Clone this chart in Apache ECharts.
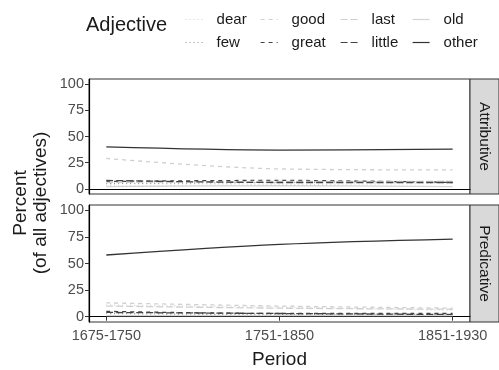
<!DOCTYPE html>
<html>
<head>
<meta charset="utf-8">
<script src="https://cdn.jsdelivr.net/npm/echarts@6/dist/echarts.min.js"></script>
<style>
  html, body { margin: 0; padding: 0; background: #fff; }
  #chart { width: 499px; height: 370px; }
</style>
</head>
<body>
<div id="chart"></div>
<script>
// ===== Data =====
const periods = ['1675-1750', '1751-1850', '1851-1930'];
const adjectives = ['dear', 'few', 'good', 'great', 'last', 'little', 'old', 'other'];
const yTicks = [0, 25, 50, 75, 100];

// Attributive panel
const attrDear   = [3, 4, 5];
const attrFew    = [5, 6, 7];
const attrGood   = [29, 19, 18];
const attrGreat  = [7, 8, 6];
const attrLast   = [6, 7, 7];
const attrLittle = [8, 6, 6];
const attrOld    = [2, 3, 2];
const attrOther  = [40, 37, 38];

// Predicative panel
const predDear   = [11, 9, 6];
const predFew    = [3, 2, 2];
const predGood   = [13, 10, 8];
const predGreat  = [5, 3, 3];
const predLast   = [10, 8, 7];
const predLittle = [4, 3, 2];
const predOld    = [1, 1, 1];
const predOther  = [58, 68, 73];

const attributive = [attrDear, attrFew, attrGood, attrGreat, attrLast, attrLittle, attrOld, attrOther];
const predicative = [predDear, predFew, predGood, predGreat, predLast, predLittle, predOld, predOther];

// ===== Styles =====
const lineColors = ['#d4d4d4', '#8a8a8a', '#cfcfcf', '#444', '#cfcfcf', '#444', '#d4d4d4', '#333'];
const lineTypes  = [[1, 3], [1, 3], [4, 4], [4, 4], [7, 3], [7, 3], 'solid', 'solid'];

const FONT = 'Liberation Sans';
const GRIDS = [
  { left: 89, top: 79, width: 381, height: 115 },
  { left: 89, top: 205, width: 381, height: 117 }
];

function makeSeries(values, gridIdx) {
  return adjectives.map((name, i) => ({
    name,
    type: 'line',
    xAxisIndex: gridIdx,
    yAxisIndex: gridIdx,
    data: values[i].map((v, j) => [j + 1, v]),
    symbol: 'none',
    smooth: 0.35,
    lineStyle: { color: lineColors[i], type: lineTypes[i], width: 1.3 },
    itemStyle: { color: lineColors[i] },
    z: i === 7 ? 5 : 3
  }));
}

function xAxisFor(gridIdx, showLabels) {
  return {
    type: 'value', gridIndex: gridIdx, min: 0.9, max: 3.1,
    axisLine: { show: true, lineStyle: { color: '#000', width: 1.2 } },
    axisTick: { show: showLabels, length: 4, customValues: [1, 2, 3], lineStyle: { color: '#333' } },
    axisLabel: {
      show: showLabels, customValues: [1, 2, 3], margin: 6,
      formatter: v => periods[Math.round(v) - 1] || '',
      color: '#4d4d4d', fontSize: 14.5, fontFamily: FONT
    },
    splitLine: { show: false },
    name: showLabels ? 'Period' : '',
    nameLocation: 'middle', nameGap: 28,
    nameTextStyle: { color: '#1a1a1a', fontSize: 19, fontFamily: FONT }
  };
}

function yAxisFor(gridIdx) {
  return {
    type: 'value', gridIndex: gridIdx, min: -5, max: 105,
    axisLine: { show: true, lineStyle: { color: '#000', width: 1.2 } },
    axisTick: { show: true, length: 4, customValues: yTicks, lineStyle: { color: '#333' } },
    axisLabel: { customValues: yTicks, margin: 5, color: '#4d4d4d', fontSize: 14.5, fontFamily: FONT },
    splitLine: { show: false }
  };
}

function legendCol(items, iconLeft) {
  return {
    data: items, orient: 'vertical', left: iconLeft, top: 7,
    itemWidth: 17, itemHeight: 14, itemGap: 8,
    itemStyle: { opacity: 0, borderWidth: 0 },
    lineStyle: { width: 1.2 },
    selectedMode: false,
    textStyle: { color: '#1a1a1a', fontSize: 15, fontFamily: FONT, padding: [0, 0, 0, 9] }
  };
}

function strip(grid, label) {
  return [
    { type: 'rect', shape: { x: 470, y: grid.top, width: 29, height: grid.height },
      style: { fill: '#d9d9d9', stroke: '#333', lineWidth: 1 } },
    { type: 'text', x: 484, y: grid.top + grid.height / 2, rotation: -Math.PI / 2,
      style: { text: label, fill: '#1a1a1a', fontSize: 15.5, fontFamily: FONT, align: 'center', verticalAlign: 'middle' } }
  ];
}

// ===== Chart =====
const chart = echarts.init(document.getElementById('chart'), null, { renderer: 'canvas' });

chart.setOption({
  backgroundColor: '#fff',
  animation: false,
  grid: GRIDS.map(g => Object.assign({ show: true, borderColor: '#333', borderWidth: 1, backgroundColor: '#fff' }, g)),
  xAxis: [xAxisFor(0, false), xAxisFor(1, true)],
  yAxis: [yAxisFor(0), yAxisFor(1)],
  legend: [
    legendCol(['dear', 'few'], 180),
    legendCol(['good', 'great'], 255),
    legendCol(['last', 'little'], 335),
    legendCol(['old', 'other'], 407)
  ],
  series: makeSeries(attributive, 0).concat(makeSeries(predicative, 1)),
  graphic: [
    { type: 'text', x: 86, y: 25,
      style: { text: 'Adjective', fill: '#1a1a1a', fontSize: 20, fontFamily: FONT, verticalAlign: 'middle' } },
    { type: 'text', x: 31, y: 203, rotation: Math.PI / 2,
      style: { text: 'Percent\n(of all adjectives)', fill: '#1a1a1a', fontSize: 19, lineHeight: 20,
               fontFamily: FONT, align: 'center', verticalAlign: 'middle' } }
  ].concat(strip(GRIDS[0], 'Attributive'), strip(GRIDS[1], 'Predicative'))
});
</script>
</body>
</html>
